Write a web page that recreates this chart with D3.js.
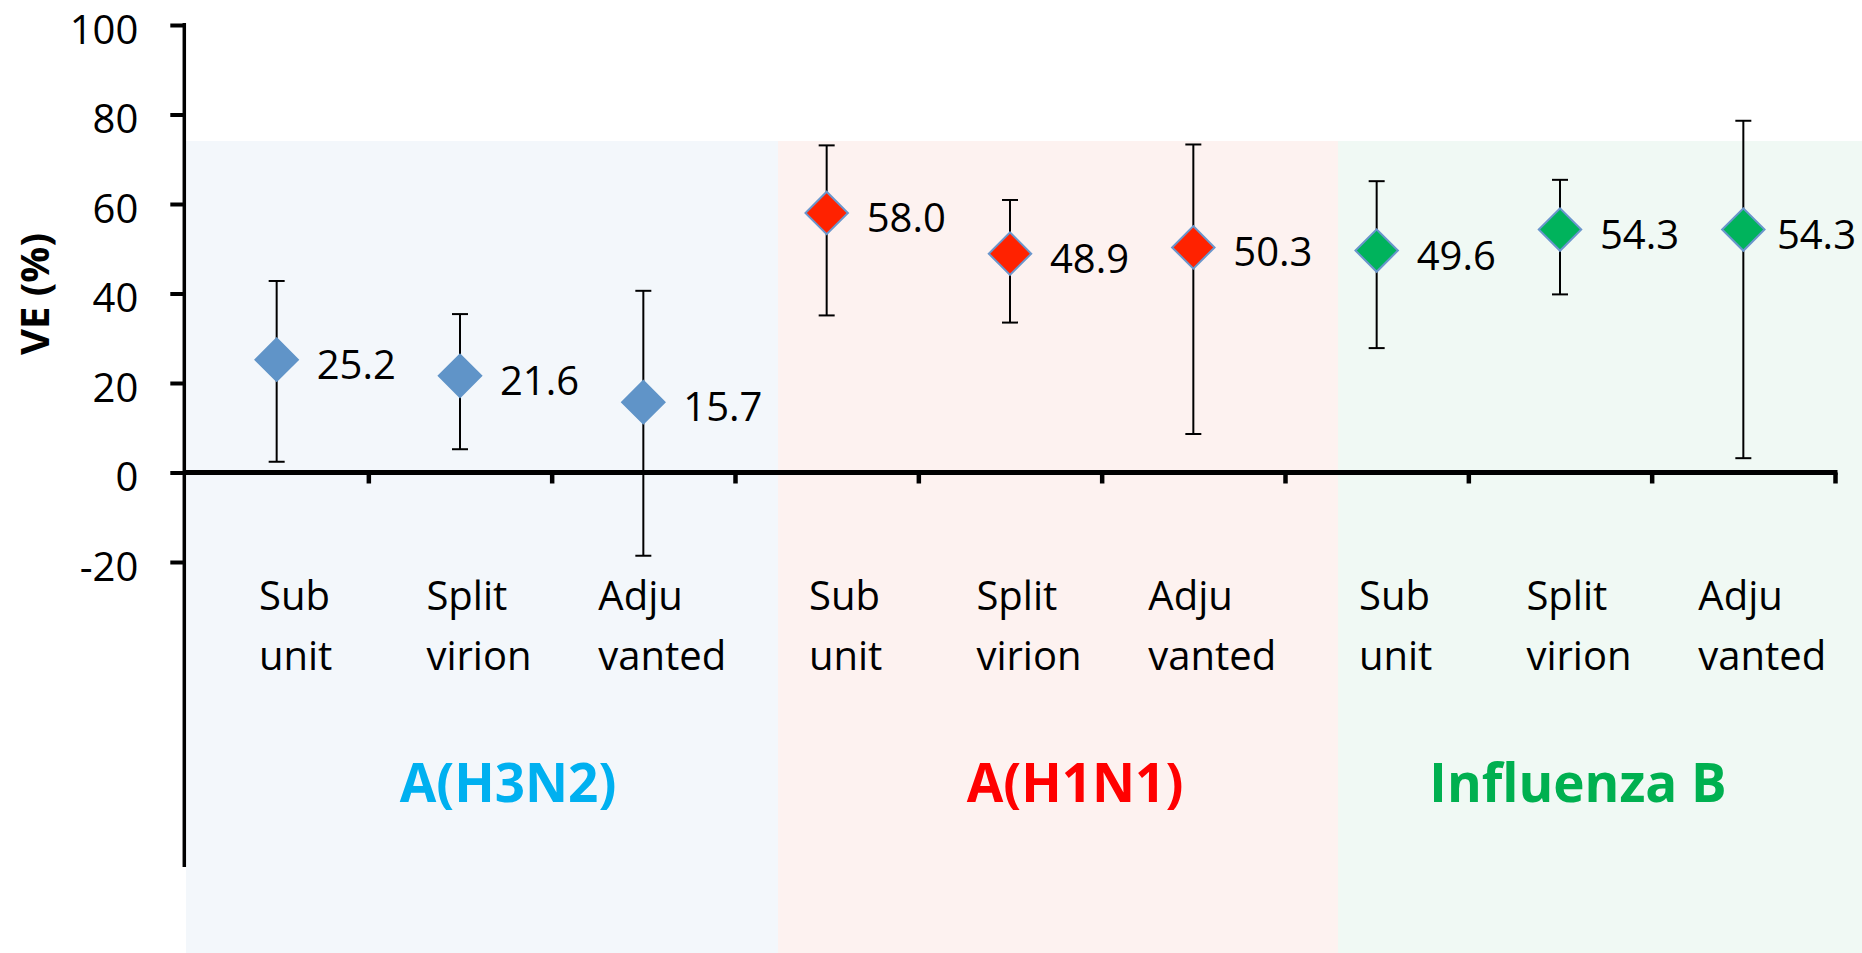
<!DOCTYPE html>
<html>
<head>
<meta charset="utf-8">
<script src="https://cdn.jsdelivr.net/npm/d3@7"></script>
<style>
  html, body { margin: 0; padding: 0; background: #ffffff; }
  svg { display: block; }
  text { font-family: "Open Sans", "DejaVu Sans", sans-serif; }
</style>
</head>
<body>
<svg id="chart" width="1862" height="953"></svg>
<script>
// ---------------- data ----------------
const groups = ["A(H3N2)", "A(H1N1)", "Influenza B"];
const catLine1 = ["Sub", "Split", "Adju", "Sub", "Split", "Adju", "Sub", "Split", "Adju"];
const catLine2 = ["unit", "virion", "vanted", "unit", "virion", "vanted", "unit", "virion", "vanted"];
const catGroup = [0, 0, 0, 1, 1, 1, 2, 2, 2];
const veValues = [25.2, 21.6, 15.7, 58.0, 48.9, 50.3, 49.6, 54.3, 54.3];
const ciLower  = [2.4, 5.2, -18.6, 35.1, 33.5, 8.6, 27.8, 39.8, 3.2];
const ciUpper  = [42.8, 35.4, 40.6, 73.1, 60.9, 73.3, 65.1, 65.4, 78.6];
const yTicks   = [-20, 0, 20, 40, 60, 80, 100];
const yTitle   = "VE (%)";

// ---------------- layout / style ----------------
const W = 1862, H = 953;
const plot = { left: 185, right: 1835, top: 25, bottom: 562 };
const panelLayout = [
  { x0: 186,  x1: 778,  labelX: 508 },
  { x0: 778,  x1: 1338, labelX: 1075 },
  { x0: 1338, x1: 1862, labelX: 1578 }
];
const panelTop = 141;
const panelFill = ["#f3f7fb", "#fdf2f0", "#f0f9f4"];
const markerFill = ["#6094c8", "#ff2200", "#00b35c"];
const markerStroke = ["#6094c8", "#6a96cc", "#6a96cc"];
const groupColor = ["#00b0f0", "#ff0000", "#00b050"];

const svg = d3.select("#chart");
svg.append("rect").attr("width", W).attr("height", H).attr("fill", "#fff");

const idx = d3.range(veValues.length);
const x = d3.scaleBand().domain(idx).range([plot.left, plot.right]).paddingInner(0).paddingOuter(0);
const xEdge = d3.scaleLinear().domain([0, idx.length]).range([plot.left, plot.right]);
const y = d3.scaleLinear().domain([-20, 100]).range([plot.bottom, plot.top]);
const cx = i => x(i) + x.bandwidth() / 2;

// background panels
svg.append("g").selectAll("rect").data(groups).join("rect")
  .attr("x", (d, i) => panelLayout[i].x0)
  .attr("y", panelTop)
  .attr("width", (d, i) => panelLayout[i].x1 - panelLayout[i].x0)
  .attr("height", H - panelTop)
  .attr("fill", (d, i) => panelFill[i]);

// y axis
const yAxis = d3.axisLeft(y).tickValues(yTicks).tickSize(14).tickPadding(32).tickFormat(d => String(d));
const gy = svg.append("g").attr("transform", "translate(184.3,0)").call(yAxis);
gy.select(".domain").remove();
gy.selectAll(".tick line").attr("stroke", "#000").attr("stroke-width", 4);
gy.selectAll(".tick text").attr("font-size", 40).attr("fill", "#000").attr("dy", "0.45em");
svg.append("line").attr("x1", 184.3).attr("x2", 184.3).attr("y1", y(100) - 2).attr("y2", 867)
  .attr("stroke", "#000").attr("stroke-width", 3.5);

// y axis title
svg.append("text")
  .attr("transform", `translate(49,294) rotate(-90)`)
  .attr("text-anchor", "middle")
  .attr("font-size", 40).attr("font-weight", "bold").attr("fill", "#000")
  .text(yTitle);

// x axis (at zero)
const xAxis = d3.axisBottom(xEdge).tickValues(d3.range(1, idx.length + 1)).tickSize(11).tickFormat("");
const gx = svg.append("g").attr("transform", `translate(0,${y(0)})`).call(xAxis);
gx.select(".domain").remove();
gx.selectAll(".tick line").attr("stroke", "#000").attr("stroke-width", 4.5);
svg.append("line").attr("x1", 184).attr("x2", xEdge(idx.length) + 2.5).attr("y1", y(0)).attr("y2", y(0))
  .attr("stroke", "#000").attr("stroke-width", 5);

// error bars
const eb = svg.append("g").attr("stroke", "#000").attr("stroke-width", 2);
idx.forEach(i => {
  eb.append("line").attr("x1", cx(i)).attr("x2", cx(i)).attr("y1", y(ciLower[i])).attr("y2", y(ciUpper[i]));
  eb.append("line").attr("x1", cx(i) - 8).attr("x2", cx(i) + 8).attr("y1", y(ciLower[i])).attr("y2", y(ciLower[i]));
  eb.append("line").attr("x1", cx(i) - 8).attr("x2", cx(i) + 8).attr("y1", y(ciUpper[i])).attr("y2", y(ciUpper[i]));
});

// diamonds
const sym = d3.symbol().type(d3.symbolSquare).size(900);
svg.append("g").selectAll("path").data(idx).join("path")
  .attr("d", sym)
  .attr("transform", i => `translate(${cx(i)},${y(veValues[i])}) rotate(45)`)
  .attr("fill", i => markerFill[catGroup[i]])
  .attr("stroke", i => markerStroke[catGroup[i]])
  .attr("stroke-width", 2);

// data labels
const fmt = d3.format(".1f");
const lbl = svg.append("g").selectAll("text").data(idx).join("text")
  .attr("x", i => cx(i) + 40)
  .attr("y", i => y(veValues[i]) + 19)
  .attr("font-size", 40).attr("fill", "#000")
  .text(i => fmt(veValues[i]));
lbl.each(function(i) {
  const w = this.getComputedTextLength();
  const xx = +this.getAttribute("x");
  if (xx + w > W - 6) this.setAttribute("x", W - 6 - w);
});

// category labels (two lines, left aligned block centred near band centre)
idx.forEach(i => {
  const g = svg.append("g");
  const t1 = g.append("text").attr("y", 610).attr("font-size", 40).attr("fill", "#000").text(catLine1[i]);
  const t2 = g.append("text").attr("y", 670).attr("font-size", 40).attr("fill", "#000").text(catLine2[i]);
  const w = Math.max(t1.node().getComputedTextLength(), t2.node().getComputedTextLength());
  const left = cx(i) + 19 - w / 2;
  t1.attr("x", left); t2.attr("x", left);
});

// group labels
svg.append("g").selectAll("text").data(groups).join("text")
  .attr("x", (d, i) => panelLayout[i].labelX)
  .attr("y", 802)
  .attr("text-anchor", "middle")
  .attr("font-size", 53).attr("font-weight", "bold")
  .attr("fill", (d, i) => groupColor[i])
  .text(d => d);
</script>
</body>
</html>
